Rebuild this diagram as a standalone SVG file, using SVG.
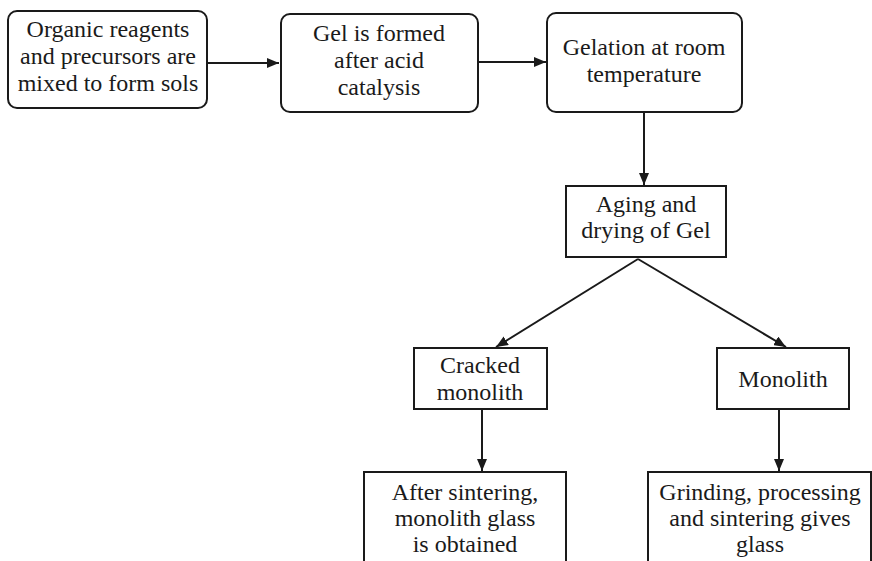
<svg xmlns="http://www.w3.org/2000/svg" width="872" height="561" viewBox="0 0 872 561">
  <style>
    .box { fill: #fff; stroke: #1a1a1a; stroke-width: 2; }
    .lbl { font-family: 'Liberation Serif', 'Times New Roman', serif; font-size: 24px; fill: #1a1a1a; text-anchor: middle; }
    .edge { fill: none; stroke: #1a1a1a; stroke-width: 2; marker-end: url(#head); }
  </style>
  <defs>
    <marker id="head" markerWidth="12" markerHeight="10" refX="12" refY="5" orient="auto" markerUnits="userSpaceOnUse">
      <path d="M0,0 L12,5 L0,10 Z" fill="#1a1a1a"/>
    </marker>
  </defs>
  <rect width="872" height="561" fill="#fff"/>

  <g id="connectors">
    <line class="edge" x1="207" y1="63" x2="279" y2="63"/>
    <line class="edge" x1="478" y1="62" x2="546" y2="62"/>
    <line class="edge" x1="644" y1="112" x2="644" y2="185"/>
    <line class="edge" x1="638" y1="259" x2="496" y2="347"/>
    <line class="edge" x1="638" y1="259" x2="786" y2="347"/>
    <line class="edge" x1="482" y1="409" x2="482" y2="471"/>
    <line class="edge" x1="779" y1="409" x2="779" y2="471"/>
  </g>

  <g id="mix-sols">
    <rect class="box" x="8" y="11" width="199" height="97" rx="9"/>
    <text class="lbl" x="108" y="37">Organic reagents</text>
    <text class="lbl" x="108" y="64">and precursors are</text>
    <text class="lbl" x="108" y="91">mixed to form sols</text>
  </g>

  <g id="gel-formed">
    <rect class="box" x="281" y="14" width="197" height="98" rx="9"/>
    <text class="lbl" x="379" y="41">Gel is formed</text>
    <text class="lbl" x="379" y="68">after acid</text>
    <text class="lbl" x="379" y="95">catalysis</text>
  </g>

  <g id="gelation">
    <rect class="box" x="547" y="13" width="195" height="99" rx="9"/>
    <text class="lbl" x="644" y="55">Gelation at room</text>
    <text class="lbl" x="644" y="82">temperature</text>
  </g>

  <g id="aging-drying">
    <rect class="box" x="566" y="186" width="160" height="71"/>
    <text class="lbl" x="646" y="212">Aging and</text>
    <text class="lbl" x="646" y="238">drying of Gel</text>
  </g>

  <g id="cracked-monolith">
    <rect class="box" x="414" y="348" width="133" height="61"/>
    <text class="lbl" x="480" y="373">Cracked</text>
    <text class="lbl" x="480" y="400">monolith</text>
  </g>

  <g id="monolith">
    <rect class="box" x="717" y="348" width="132" height="61"/>
    <text class="lbl" x="783" y="387">Monolith</text>
  </g>

  <g id="sintered-glass">
    <path class="box" d="M364,565 V472 H566 V565"/>
    <text class="lbl" x="465" y="500">After sintering,</text>
    <text class="lbl" x="465" y="526">monolith glass</text>
    <text class="lbl" x="465" y="552">is obtained</text>
  </g>

  <g id="ground-glass">
    <path class="box" d="M648,565 V472 H871 V565"/>
    <text class="lbl" x="760" y="500">Grinding, processing</text>
    <text class="lbl" x="760" y="526">and sintering gives</text>
    <text class="lbl" x="760" y="552">glass</text>
  </g>
</svg>
